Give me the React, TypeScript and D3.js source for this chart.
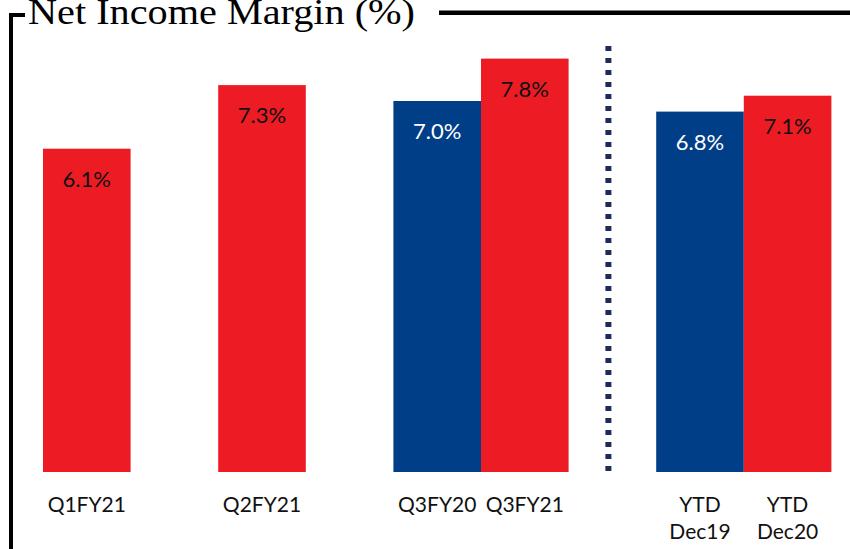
import React from "react";
import * as d3 from "d3";

const categories = ["Q1FY21", "Q2FY21", "Q3FY20", "Q3FY21", "YTD Dec19", "YTD Dec20"];
const slots = [0, 2, 4, 5, 7, 8];
const values = [6.1, 7.3, 7.0, 7.8, 6.8, 7.1];
const series = ["FY21", "FY21", "FY20", "FY21", "FY20", "FY21"];
const valueLabels = ["6.1%", "7.3%", "7.0%", "7.8%", "6.8%", "7.1%"];
const title = "Net Income Margin (%)";

const RED = "#ED1C24";
const BLUE = "#003E87";
const NAVY = "#1F2A5C";

export default function App() {
  const W = 850, H = 549;
  const baseY = 472;
  const slotW = 87.6;
  const x = d3.scaleLinear().domain([0, 9]).range([43, 43 + 9 * slotW]);
  const y = d3.scaleLinear().domain([0, 8]).range([baseY, baseY - 8 * 53]);
  const bw = x(1) - x(0);
  const color = d3.scaleOrdinal<string, string>().domain(["FY20", "FY21"]).range([BLUE, RED]);
  const dividerX = (x(6) + x(7)) / 2 - 4;
  const dots = d3.range(46, 470, 12);

  return (
    <svg width={W} height={H} style={{ position: "absolute", left: 0, top: 0, background: "#fff" }}
      fontFamily="Lato, sans-serif">
      {/* frame */}
      <rect x={9} y={13} width={4} height={H - 13} fill="#000" />
      <rect x={9} y={13} width={16} height={4} fill="#000" />
      <rect x={439} y={10.5} width={W - 439} height={4.5} fill="#000" />
      <text x={28} y={24} fontFamily="'Liberation Serif', serif" fontSize={36}
        textLength={387} lengthAdjust="spacingAndGlyphs" fill="#000">{title}</text>

      {/* divider */}
      {dots.map((d, i) => (
        <rect key={i} x={dividerX - 3} y={d} width={6} height={5} fill={NAVY} />
      ))}

      {values.map((v, i) => {
        const x0 = x(slots[i]);
        const top = y(v);
        const fill = color(series[i]);
        return (
          <g key={i}>
            <rect x={x0} y={top} width={bw} height={baseY - top} fill={fill} />
            <text x={x0 + bw / 2} y={top + 38} textAnchor="middle" fontSize={22}
              fill={series[i] === "FY20" ? "#fff" : "#111"}>{valueLabels[i]}</text>
            {categories[i].split(" ").map((ln, j) => (
              <text key={j} x={x0 + bw / 2} y={512 + j * 27} textAnchor="middle" fontSize={21} fill="#111">{ln}</text>
            ))}
          </g>
        );
      })}
    </svg>
  );
}
